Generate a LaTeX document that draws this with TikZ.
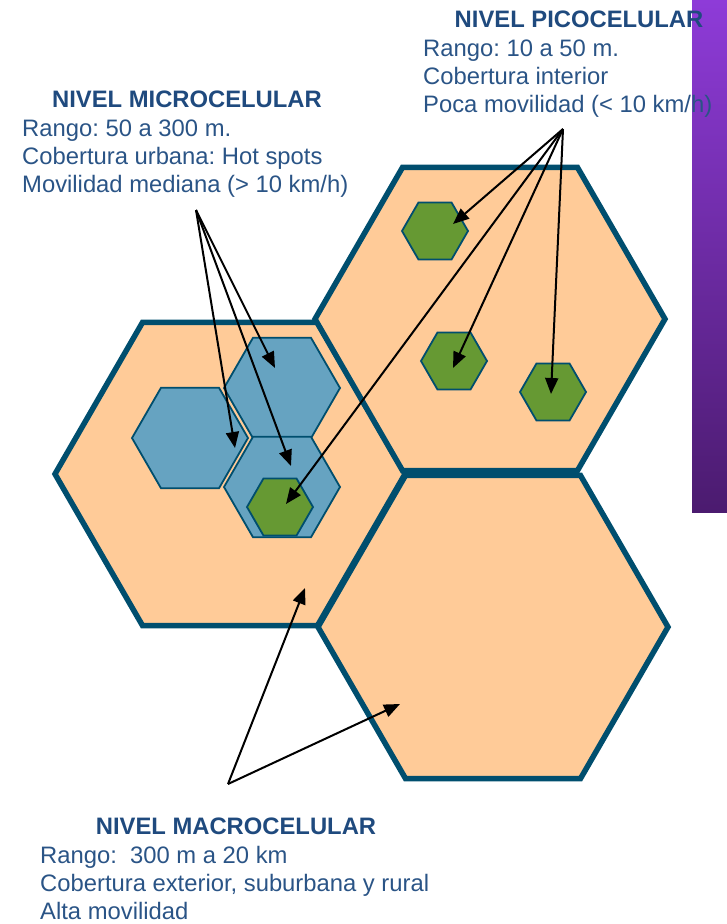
\documentclass[tikz,border=0pt]{standalone}
\usepackage{fontspec}
\setmainfont{Liberation Sans}
\usetikzlibrary{shapes.geometric,arrows.meta}
\frenchspacing

\definecolor{colBorde}{HTML}{004E6E}
\definecolor{colDurazno}{HTML}{FFCB98}
\definecolor{colCeleste}{HTML}{66A3C1}
\definecolor{colVerde}{HTML}{669933}
\definecolor{colTitulo}{HTML}{1F4A7E}
\definecolor{colTexto}{HTML}{2A5486}
\definecolor{colMoradoA}{HTML}{8E3BD8}
\definecolor{colMoradoB}{HTML}{4B1B6F}

\tikzset{
  hexa/.style={regular polygon, regular polygon sides=6, inner sep=0pt, outer sep=0pt, draw=colBorde},
  celdamacro/.style={hexa, fill=colDurazno, line width=5.5pt, minimum size=350pt},
  celdamicro/.style={hexa, fill=colCeleste, line width=1.8pt, minimum size=116pt},
  celdapico/.style={hexa, fill=colVerde, line width=1.8pt, minimum size=66pt},
  flecha/.style={line width=2pt, -{Triangle[length=16pt,width=13pt]}},
  titulo/.style={font=\fontsize{23.8}{28}\selectfont\bfseries, text=colTitulo, inner sep=0pt, anchor=base},
  cuerpo/.style={font=\fontsize{23.8}{28}\selectfont, text=colTexto, inner sep=0pt, align=left, anchor=north west},
}

\begin{document}
\begin{tikzpicture}[x=1pt,y=-1pt]
\useasboundingbox (0,0) rectangle (727,924);
% side bar
\shade[top color=colMoradoA, bottom color=colMoradoB] (692,0) rectangle (727,512);
% macro cells
\node[celdamacro] (macroA) at (230,474) {};
\node[celdamacro] (macroB) at (490,319) {};
\node[celdamacro] (macroC) at (493,627) {};
% micro cells
\node[celdamicro] (microA) at (190,438) {};
\node[celdamicro] (microB) at (282,388) {};
\node[celdamicro] (microC) at (282,487) {};
% pico cells
\node[celdapico] (picoA) at (280,507) {};
\node[celdapico] (picoB) at (435,231) {};
\node[celdapico] (picoC) at (454,361) {};
\node[celdapico] (picoD) at (553,392) {};
% coordinates
\coordinate (microO)  at (196,210);%
\coordinate (microT1) at (235,448);%
\coordinate (microT2) at (291,466);%
\coordinate (microT3) at (275,368);%
\coordinate (picoO)   at (563,129);%
\coordinate (picoT1)  at (453,224);%
\coordinate (picoT2)  at (453,368);%
\coordinate (picoT3)  at (551,394);%
\coordinate (picoT4)  at (286,504);%
\coordinate (macroO)  at (228,784);%
\coordinate (macroT1) at (305,588);%
\coordinate (macroT2) at (400,704);%
% arrows
\draw[flecha] (microO) -- (microT1);
\draw[flecha] (microO) -- (microT2);
\draw[flecha] (microO) -- (microT3);
\draw[flecha] (picoO)  -- (picoT1);
\draw[flecha] (picoO)  -- (picoT2);
\draw[flecha] (picoO)  -- (picoT3);
\draw[flecha] (picoO)  -- (picoT4);
\draw[flecha] (macroO) -- (macroT1);
\draw[flecha] (macroO) -- (macroT2);
% labels
\node[titulo] (picoTit)  at (579,27)  {NIVEL PICOCELULAR};
\node[cuerpo] (picoTxt)  at (423,40)  {Rango: 10 a 50 m.\\Cobertura interior\\Poca movilidad (< 10 km/h)};
\node[titulo] (microTit) at (187,107) {NIVEL MICROCELULAR};
\node[cuerpo] (microTxt) at (22,120)  {Rango: 50 a 300 m.\\Cobertura urbana: Hot spots\\Movilidad mediana (> 10 km/h)};
\node[titulo] (macroTit) at (236,834) {NIVEL MACROCELULAR};
\node[cuerpo] (macroTxt) at (40,846)  {Rango:~ 300 m a 20 km\\Cobertura exterior, suburbana y rural\\Alta movilidad};
\end{tikzpicture}
\end{document}
